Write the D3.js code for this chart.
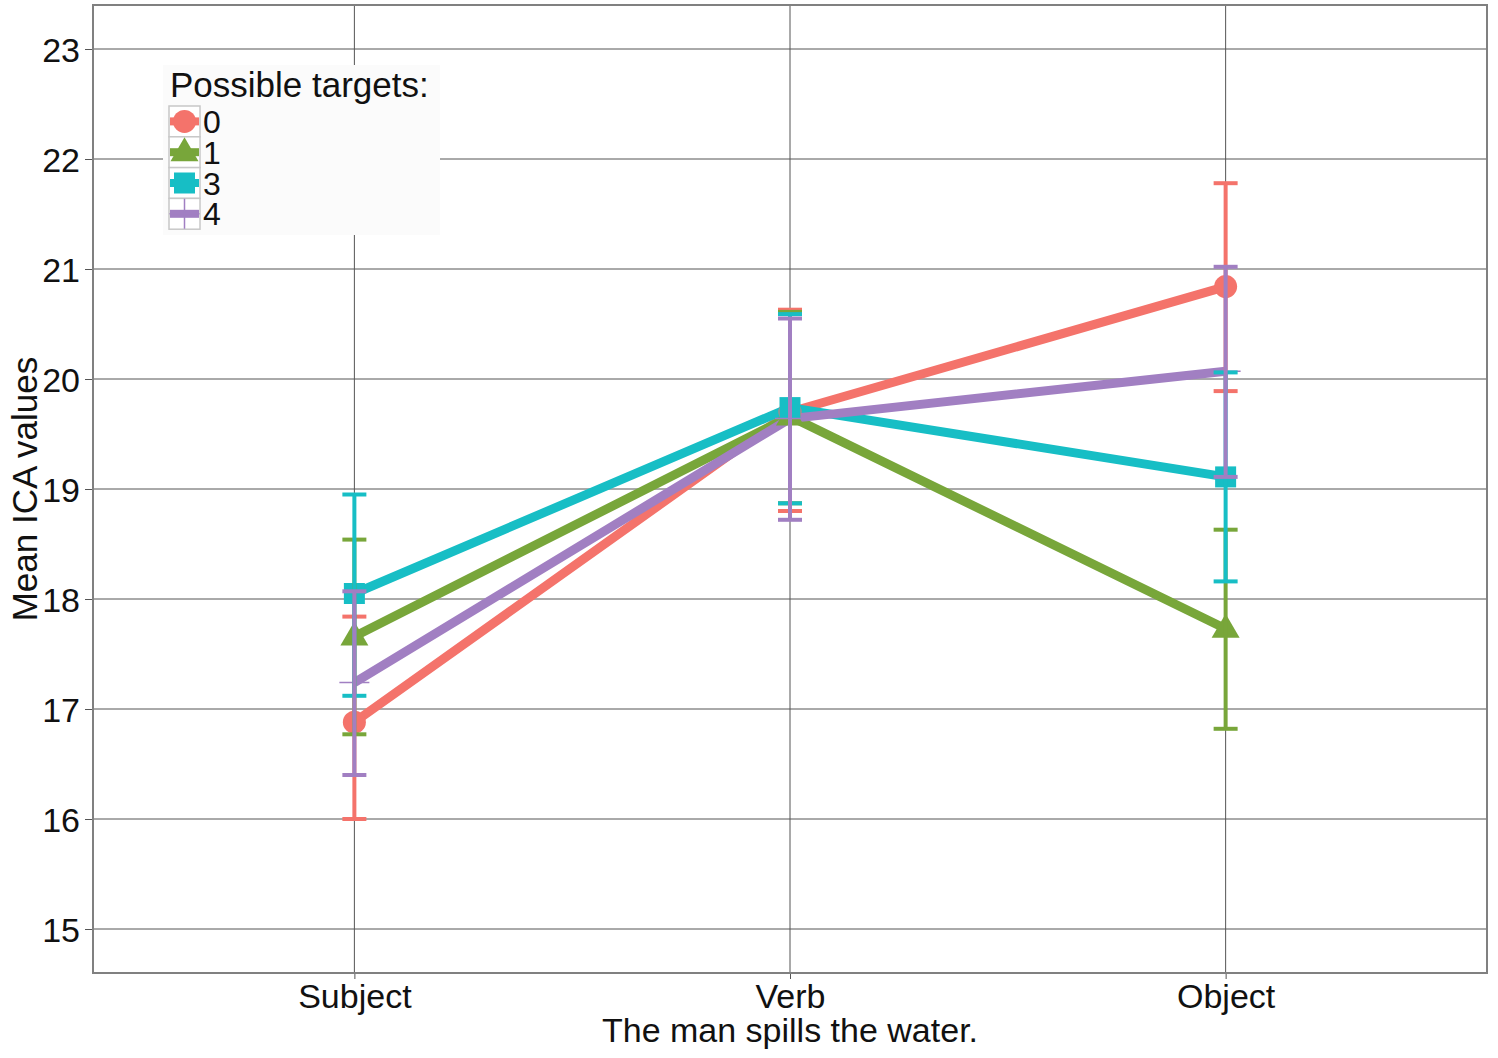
<!DOCTYPE html>
<html>
<head>
<meta charset="utf-8">
<script src="https://cdn.jsdelivr.net/npm/d3@7"></script>
<style>
  body { margin: 0; background: #fff; }
  svg { font-family: "Liberation Sans", Arial, Helvetica, sans-serif; }
</style>
</head>
<body>
<svg></svg>
<script>
let categories = ['Subject', 'Verb', 'Object']
let groups = ['0', '1', '3', '4']
let colors = ['#F4736B', '#78A63A', '#17BEC5', '#A17FC2']
let shapes = ['circle', 'triangle', 'square', 'plus']

// mean per group, in category order
let means = [
    [16.88, 19.70, 20.84],
    [17.66, 19.66, 17.73],
    [18.05, 19.74, 19.11],
    [17.24, 19.64, 20.07]
]
let lower = [
    [16.00, 18.80, 19.89],
    [16.77, 18.87, 16.82],
    [17.12, 18.87, 18.16],
    [16.40, 18.72, 19.11]
]
let upper = [
    [17.84, 20.63, 21.78],
    [18.54, 20.61, 18.63],
    [18.95, 20.59, 20.06],
    [18.07, 20.55, 21.02]
]
let yTicks = [15, 16, 17, 18, 19, 20, 21, 22, 23]

let width = 1498
let height = 1058
let padLeft = 93, padRight = 1487, padTop = 5, padBottom = 973

let svg = d3.select('svg').attr('width', width).attr('height', height)

let xScale = d3.scalePoint()
               .domain(categories)
               .range([padLeft, padRight])
               .padding(0.6)

let yScale = d3.scaleLinear()
               .domain([14.6, 23.4])
               .range([padBottom, padTop])

// grid
let grid = svg.append('g')
grid.selectAll('.hgrid')
    .data(yTicks)
    .enter()
    .append('line')
    .attr('x1', padLeft).attr('x2', padRight)
    .attr('y1', d => yScale(d)).attr('y2', d => yScale(d))
    .attr('stroke', '#555').attr('stroke-width', 1)
grid.selectAll('.vgrid')
    .data(categories)
    .enter()
    .append('line')
    .attr('x1', d => xScale(d)).attr('x2', d => xScale(d))
    .attr('y1', padTop).attr('y2', padBottom)
    .attr('stroke', '#555').attr('stroke-width', 1)

// axes
let yAxis = d3.axisLeft(yScale).tickValues(yTicks).tickSize(8).tickPadding(5)
let xAxis = d3.axisBottom(xScale).tickSize(6).tickPadding(3)

let gy = svg.append('g')
    .attr('transform', `translate(${padLeft},0)`)
    .call(yAxis)
gy.select('.domain').remove()
gy.selectAll('line').attr('stroke', '#555')
gy.selectAll('text').attr('font-size', 34).attr('fill', '#111').attr('dy', '0.36em')

let gx = svg.append('g')
    .attr('transform', `translate(0,${padBottom})`)
    .call(xAxis)
gx.select('.domain').remove()
gx.selectAll('line').attr('stroke', '#555')
gx.selectAll('text').attr('font-size', 34).attr('fill', '#111').attr('dy', '0.76em')

svg.append('text')
    .attr('x', (padLeft + padRight) / 2).attr('y', 1042)
    .attr('text-anchor', 'middle').attr('font-size', 34).attr('fill', '#111')
    .text('The man spills the water.')

svg.append('text')
    .attr('transform', `translate(37,${(padTop + padBottom) / 2}) rotate(-90)`)
    .attr('text-anchor', 'middle').attr('font-size', 35).attr('fill', '#111')
    .text('Mean ICA values')

const drawShape = (g, shape, x, y, color) => {
    if (shape === 'circle') {
        g.append('circle').attr('cx', x).attr('cy', y).attr('r', 11.5).attr('fill', color)
    } else if (shape === 'triangle') {
        g.append('path')
         .attr('d', `M${x},${y - 15} L${x + 14},${y + 9} L${x - 14},${y + 9} Z`)
         .attr('fill', color)
    } else if (shape === 'square') {
        g.append('rect').attr('x', x - 10.5).attr('y', y - 10.5)
         .attr('width', 21).attr('height', 21).attr('fill', color)
    } else {
        g.append('path')
         .attr('d', `M${x - 15},${y} L${x + 15},${y} M${x},${y - 15} L${x},${y + 15}`)
         .attr('stroke', color).attr('stroke-width', 1.5).attr('fill', 'none')
    }
}

// legend inside the panel
let legend = svg.append('g')
legend.append('rect')
    .attr('x', 163).attr('y', 65).attr('width', 277).attr('height', 170)
    .attr('fill', '#fbfbfb')
legend.append('text')
    .attr('x', 170).attr('y', 97).attr('font-size', 35).attr('fill', '#111')
    .text('Possible targets:')

let keyTop = 106, keyH = 30.8, keyX = 169, keyW = 31
groups.forEach((grp, i) => {
    let ky = keyTop + i * keyH
    let kg = legend.append('g')
    kg.append('rect')
      .attr('x', keyX).attr('y', ky).attr('width', keyW).attr('height', keyH)
      .attr('fill', '#fff').attr('stroke', '#c8c8c8').attr('stroke-width', 1.5)
    let cx = keyX + keyW / 2, cy = ky + keyH / 2
    kg.append('line')
      .attr('x1', keyX + 1).attr('x2', keyX + keyW - 1).attr('y1', cy).attr('y2', cy)
      .attr('stroke', colors[i]).attr('stroke-width', 8)
    drawShape(kg, shapes[i], cx, cy, colors[i])
    kg.append('text')
      .attr('x', keyX + keyW + 3).attr('y', cy + 11.5)
      .attr('font-size', 32).attr('fill', '#111')
      .text(grp)
})

// lines
let line = d3.line()
    .x((d, i) => xScale(categories[i]))
    .y(d => yScale(d))

svg.append('g').selectAll('path')
    .data(means)
    .enter()
    .append('path')
    .attr('d', d => line(d))
    .attr('fill', 'none')
    .attr('stroke', (d, i) => colors[i])
    .attr('stroke-width', 9)
    .attr('stroke-linejoin', 'round')

// points
let pts = svg.append('g')
means.forEach((row, i) => {
    row.forEach((v, j) => {
        drawShape(pts, shapes[i], xScale(categories[j]), yScale(v), colors[i])
    })
})

// error bars
let eb = svg.append('g')
groups.forEach((grp, i) => {
    categories.forEach((cat, j) => {
        let x = xScale(cat)
        let g = eb.append('g').attr('stroke', colors[i]).attr('stroke-width', 4)
        g.append('line').attr('x1', x).attr('x2', x)
         .attr('y1', yScale(lower[i][j])).attr('y2', yScale(upper[i][j]))
        g.append('line').attr('x1', x - 12).attr('x2', x + 12)
         .attr('y1', yScale(lower[i][j])).attr('y2', yScale(lower[i][j]))
        g.append('line').attr('x1', x - 12).attr('x2', x + 12)
         .attr('y1', yScale(upper[i][j])).attr('y2', yScale(upper[i][j]))
    })
})

// panel border
svg.append('rect')
    .attr('x', padLeft).attr('y', padTop).attr('width', padRight - padLeft).attr('height', padBottom - padTop)
    .attr('fill', 'none').attr('stroke', '#808080').attr('stroke-width', 2)
</script>
</body>
</html>
